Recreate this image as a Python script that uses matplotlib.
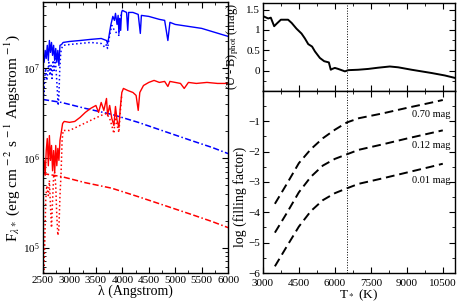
import numpy as np
import matplotlib.pyplot as plt
from matplotlib.ticker import MultipleLocator, FixedLocator, FixedFormatter, LogLocator, NullFormatter

plt.rcParams['font.family'] = ['Liberation Serif', 'DejaVu Serif']
plt.rcParams['mathtext.fontset'] = 'stix'
plt.rcParams['xtick.direction'] = 'in'
plt.rcParams['ytick.direction'] = 'in'
plt.rcParams['xtick.top'] = True
plt.rcParams['ytick.right'] = True
plt.rcParams['xtick.labelsize'] = 8
plt.rcParams['ytick.labelsize'] = 8
plt.rcParams['axes.labelsize'] = 10

# --- spectra (flux in units of 1e6 erg cm-2 s-1 A-1) ---
wl_blue = [2500, 2520, 2540, 2560, 2580, 2600, 2620, 2640, 2660, 2680, 2700, 2720, 2740,
           2760, 2780, 2800, 2820, 2850, 2880, 3000, 3200, 3400, 3600, 3700, 3720, 3740,
           3780, 3820, 3850, 3870, 3900, 3920, 3935, 3950, 3968, 3985, 4000, 4040, 4080,
           4102, 4120, 4200, 4300, 4340, 4360, 4500, 4700, 4800, 4861, 4900, 5000, 5500, 6000]
fl_blue = [14.0, 11.7, 15.9, 12.9, 18.1, 12.3, 20.5, 15.1, 19.5, 14.0, 18.1, 12.3, 16.7,
           11.7, 15.9, 10.8, 18.1, 18.5, 19.5, 20.0, 20.5, 21.1, 21.6, 20.5, 19.0, 21.6,
           30.2, 38.1, 34.4, 41.2, 31.0, 39.1, 24.6, 36.2, 26.6, 42.2, 44.5, 43.3, 42.2,
           26.6, 42.2, 42.2, 40.1, 24.6, 39.1, 38.1, 35.3, 34.4, 20.5, 32.7, 31.0, 28.0, 22.8]

wl_blue_dot = [2500, 2515, 2530, 2550, 2570, 2590, 2610, 2630, 2650, 2670, 2690, 2710, 2730,
               2750, 2770, 2785, 2800, 2815, 2835, 2860, 2880, 3000, 3200, 3400, 3600, 3670,
               3700, 3720, 3760, 3800, 3850, 3900, 3935, 3950, 3985]
fl_blue_dot = [9.50, 5.00, 7.73, 10.0, 7.35, 9.02, 11.7, 8.35, 10.8, 7.73, 12.3, 9.50, 12.9,
               9.02, 5.68, 3.86, 5.00, 9.50, 15.1, 17.2, 18.1, 18.5, 19.0, 19.5, 19.0, 17.2,
               18.5, 16.7, 23.4, 30.2, 26.6, 24.6, 23.4, 34.4, 41.2]

wl_red = [2500, 2520, 2540, 2560, 2580, 2600, 2620, 2640, 2660, 2680, 2700, 2720, 2740,
          2760, 2780, 2800, 2820, 2850, 2870, 2900, 3000, 3100, 3200, 3300, 3400, 3500,
          3550, 3600, 3650, 3700, 3720, 3760, 3800, 3840, 3870, 3900, 3935, 3960, 3990,
          4020, 4100, 4200, 4260, 4300, 4330, 4400, 4500, 4600, 4700, 4800, 4861, 4900,
          5000, 5100, 5170, 5250, 5400, 5600, 5800, 6000]
fl_red = [0.72, 0.94, 0.64, 1.21, 1.65, 0.82, 1.78, 0.94, 1.38, 0.72, 1.21, 0.69, 1.38,
          0.82, 1.28, 0.94, 1.57, 2.03, 2.43, 2.56, 2.50, 2.56, 2.84, 3.23, 3.58, 3.86,
          3.23, 4.17, 3.40, 4.62, 2.99, 3.86, 2.77, 2.31, 3.76, 2.63, 2.19, 3.58, 5.39,
          5.98, 5.68, 5.39, 5.00, 3.40, 5.39, 6.45, 6.98, 7.35, 6.98, 7.16, 6.29, 7.16,
          6.98, 6.80, 5.98, 6.98, 6.80, 6.98, 6.80, 6.80]

wl_red_dot = [2500, 2510, 2530, 2550, 2570, 2600, 2620, 2640, 2660, 2680, 2700, 2720, 2740,
              2760, 2780, 2800, 2820, 2840, 2860, 2880, 3000, 3200, 3400, 3600, 3700, 3760,
              3800, 3840, 3870, 3900, 3935, 3960, 3990]
fl_red_dot = [0.64, 0.049, 0.093, 0.334, 0.49, 0.381, 0.56, 0.295, 0.167, 0.334, 0.62, 0.69, 0.49,
              0.228, 0.137, 0.163, 0.381, 0.65, 1.57, 2.03, 2.03, 2.31, 2.63, 2.99, 3.14, 2.77,
              2.31, 1.88, 2.99, 2.31, 1.93, 3.23, 5.13]

wl_bb = [2500, 2850, 3300, 3800, 4300, 4800, 5300, 5700, 6000]
fl_bb_blue = [4.50, 4.17, 3.58, 3.07, 2.50, 1.98, 1.57, 1.31, 1.12]
fl_bb_red = [0.67, 0.62, 0.53, 0.46, 0.37, 0.295, 0.235, 0.195, 0.167]

# --- (U-B) colour vs T ---
t_ub = [3000, 3220, 3330, 3470, 3570, 3750, 4050, 4200, 4400, 4610, 4750, 4890, 5050, 5170,
        5375, 5555, 5750, 5830, 5890, 6000, 6140, 6280, 6420, 6560, 6970, 7390, 7800, 8290,
        8640, 9200, 10030, 10580, 11000]
ub = [1.34, 1.28, 1.30, 1.09, 1.15, 1.25, 1.25, 1.17, 1.03, 0.91, 0.79, 0.65, 0.59, 0.47,
      0.31, 0.23, 0.20, 0.02, 0.04, 0.065, 0.04, 0.01, -0.02, 0.01, 0.02, 0.04, 0.07, 0.10,
      0.08, 0.02, -0.06, -0.12, -0.18]

# --- filling factor vs T ---
t_ff = [3500, 4000, 4500, 5000, 5500, 6000, 6500, 7000, 8000, 9000, 10000, 10500]
ff_070 = [-3.72, -3.06, -2.38, -1.92, -1.56, -1.28, -1.04, -0.90, -0.74, -0.56, -0.39, -0.30]
ff_012 = [-4.67, -4.02, -3.34, -2.83, -2.46, -2.24, -2.09, -1.94, -1.76, -1.57, -1.39, -1.30]
ff_001 = [-5.78, -5.12, -4.47, -3.96, -3.60, -3.37, -3.21, -3.06, -2.88, -2.69, -2.50, -2.40]
ff_labels = ['0.70 mag', '0.12 mag', '0.01 mag']
ff_label_y = [-0.78, -1.80, -2.95]

t_mark = 6500

fig = plt.figure(figsize=(4.58, 3.03), dpi=100)
ax1 = fig.add_axes([0.094, 0.099, 0.404, 0.894])
ax2 = fig.add_axes([0.574, 0.700, 0.419, 0.290])
ax3 = fig.add_axes([0.574, 0.099, 0.419, 0.601])

dd = (4, 1.6, 4, 1.6, 1, 1.6)
s = 1e6
ax1.plot(wl_blue_dot, np.array(fl_blue_dot) * s, color='#0000ff', ls=':', lw=1.1)
ax1.plot(wl_blue, np.array(fl_blue) * s, color='#0000ff', lw=1.0)
ax1.plot(wl_bb, np.array(fl_bb_blue) * s, color='#0000ff', lw=1.1, dashes=dd)
ax1.plot(wl_red_dot, np.array(fl_red_dot) * s, color='#ff0000', ls=':', lw=1.1)
ax1.plot(wl_red, np.array(fl_red) * s, color='#ff0000', lw=1.0)
ax1.plot(wl_bb, np.array(fl_bb_red) * s, color='#ff0000', lw=1.1, dashes=dd)
ax1.set_yscale('log')
ax1.set_xlim(2500, 6000)
ax1.set_ylim(5.2e4, 5.5e7)
ax1.xaxis.set_major_locator(MultipleLocator(500))
ax1.xaxis.set_minor_locator(MultipleLocator(250))
ax1.yaxis.set_major_locator(LogLocator(base=10, numticks=10))
ax1.yaxis.set_minor_locator(LogLocator(base=10, subs=np.arange(2, 10), numticks=10))
ax1.yaxis.set_minor_formatter(NullFormatter())
ax1.set_xlabel('λ (Angstrom)', labelpad=0)
ax1.set_ylabel(r'F$_{\lambda *}$ (erg cm$^{\,-2}$ s$^{\,-1}$ Angstrom$^{\,-1}$)',
               fontsize=11, labelpad=1)

ax2.plot(t_ub, ub, color='k', lw=1.4)
ax2.axvline(t_mark, color='k', ls=':', lw=0.7)
ax2.set_xlim(3000, 11000)
ax2.set_ylim(-0.5, 1.66)
ax2.xaxis.set_major_locator(MultipleLocator(1500))
ax2.xaxis.set_minor_locator(MultipleLocator(750))
ax2.tick_params(axis='x', labelbottom=False)
ax2.yaxis.set_major_locator(FixedLocator([0, 0.5, 1, 1.5]))
ax2.yaxis.set_major_formatter(FixedFormatter(['0', '0.5', '1', '1.5']))
ax2.yaxis.set_minor_locator(MultipleLocator(0.25))
ax2.set_ylabel(r'(U - B)$_{\rm phot}$ (mag)', fontsize=9)
ax2.yaxis.set_label_coords(-0.115, 0.5)

for ff in [ff_070, ff_012, ff_001]:
    ax3.plot(t_ff, ff, color='k', lw=1.4, dashes=(4.5, 2.5))
for lab, ly in zip(ff_labels, ff_label_y):
    ax3.text(10820, ly, lab, ha='right', va='center', fontsize=7.5)
ax3.axvline(t_mark, color='k', ls=':', lw=0.7)
ax3.set_xlim(3000, 11000)
ax3.set_ylim(-6, 0)
ax3.xaxis.set_major_locator(MultipleLocator(1500))
ax3.xaxis.set_minor_locator(MultipleLocator(750))
ax3.yaxis.set_major_locator(FixedLocator([-6, -5, -4, -3, -2, -1]))
ax3.yaxis.set_minor_locator(MultipleLocator(0.5))
ax3.set_xlabel(r'T$_*$ (K)', labelpad=0, fontsize=9.5)
ax3.set_ylabel('log (filling factor)')
ax3.yaxis.set_label_coords(-0.085, 0.42)

for ax in [ax1, ax2, ax3]:
    ax.tick_params(which='major', length=4, width=0.8, pad=2)
    ax.tick_params(which='minor', length=2, width=0.6)
    for sp in ax.spines.values():
        sp.set_linewidth(1.0)
ax3.tick_params(axis='x', which='major', pad=4)

fig.savefig('out.png', dpi=100)
